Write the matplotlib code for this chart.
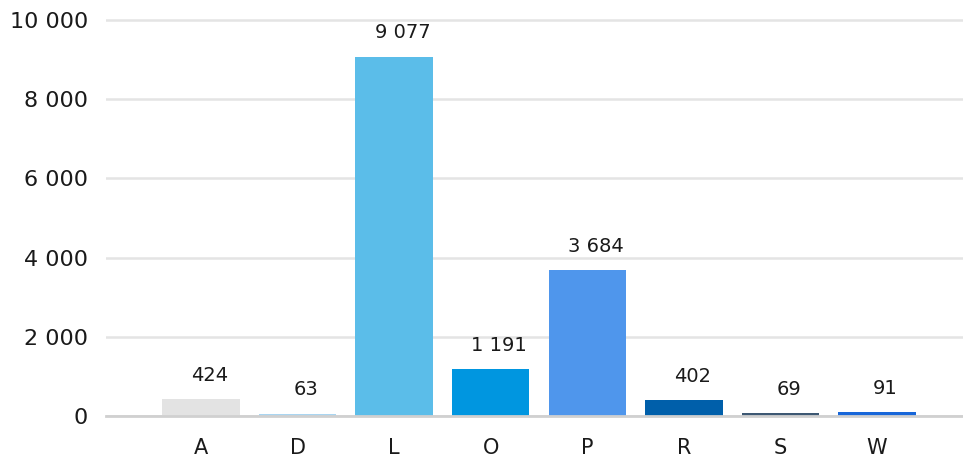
import matplotlib
matplotlib.use("Agg")
import matplotlib.pyplot as plt

categories = ["A", "D", "L", "O", "P", "R", "S", "W"]
values = [424, 63, 9077, 1191, 3684, 402, 69, 91]
colors = ["#e3e3e3", "#a9d5f1", "#5bbde9", "#0096e0", "#4f96ec", "#005faa", "#3d5873", "#1766d9"]
yticks = [0, 2000, 4000, 6000, 8000, 10000]

def fmt(v):
    return f"{v:,}".replace(",", " ")

W, H = 963, 457
fig = plt.figure(figsize=(W / 100, H / 100), dpi=100)
left = 106 / W
bottom = 1 - 416 / H
ax = fig.add_axes([left, bottom, 1 - left, 1 - bottom])

x = list(range(len(categories)))
ax.bar(x, values, width=0.8, color=colors, zorder=3)

ax.set_xlim(-0.983, 7.89)
ax.set_ylim(0, 10505)
ax.set_yticks(yticks)
ax.set_yticklabels([fmt(v) for v in yticks], fontsize=16, color="#1a1a1a")
ax.set_xticks(x)
ax.set_xticklabels(categories, fontsize=15, color="#1a1a1a")
ax.tick_params(axis="y", length=0, pad=13)
ax.tick_params(axis="x", length=0, pad=16)
ax.grid(axis="y", color="#e4e4e4", linewidth=1.8, zorder=0)
for s in ax.spines.values():
    s.set_visible(False)
ax.axhline(0, color="#d0d0d0", linewidth=2, zorder=4, clip_on=False)

for xi, v in zip(x, values):
    ax.annotate(fmt(v), (xi, v), xytext=(6, 17), textcoords="offset points",
                ha="center", va="center", fontsize=14, color="#1a1a1a")

fig.savefig("out.png", dpi=100)
